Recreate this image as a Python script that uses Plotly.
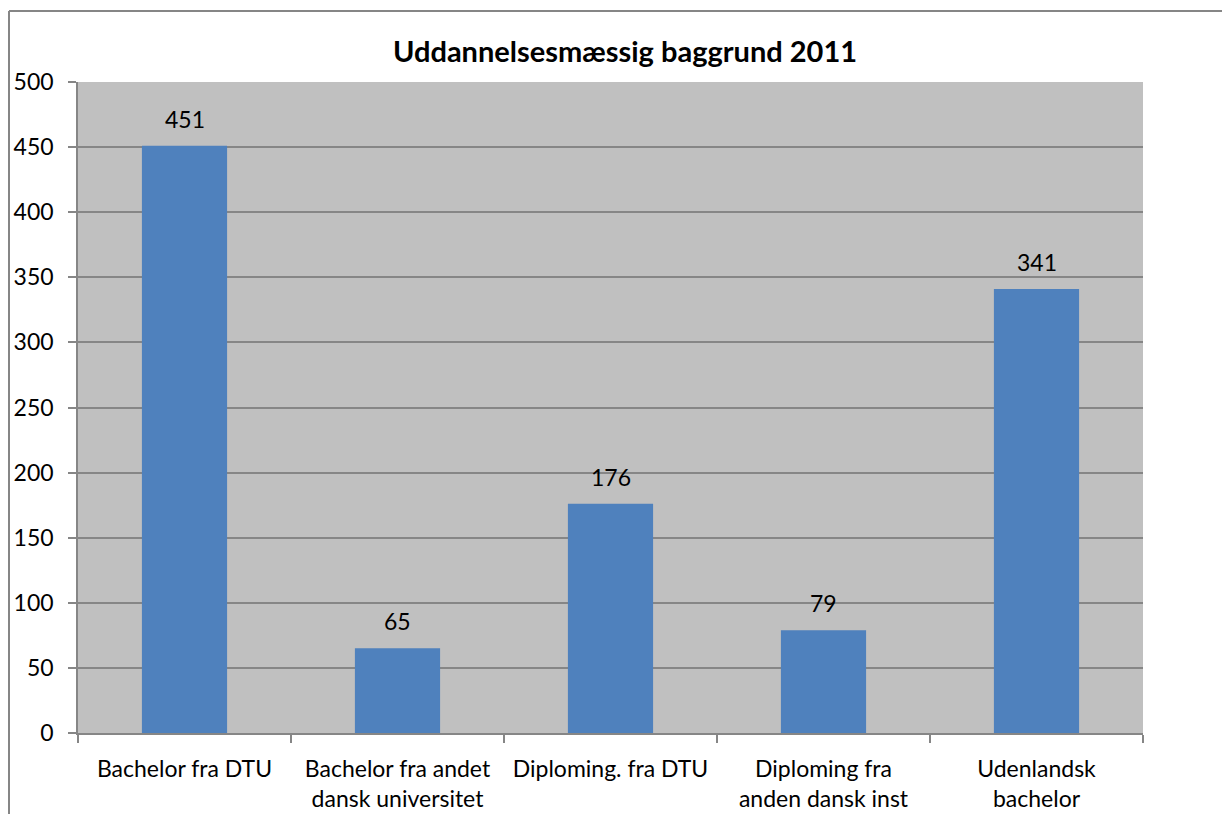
import plotly.graph_objects as go

categories = ["Bachelor fra DTU", "Bachelor fra andet<br>dansk universitet", "Diploming. fra DTU",
              "Diploming fra<br>anden dansk inst", "Udenlandsk<br>bachelor"]
values = [451, 65, 176, 79, 341]
y_ticks = [0, 50, 100, 150, 200, 250, 300, 350, 400, 450, 500]

W, H = 1230, 814
# page body has an 8px margin, so figure pixels = screen pixels - 8
L, R, T, B = 70, 95, 74, 89
pw = W - L - R
ph = H - T - B

fig = go.Figure(go.Bar(x=categories, y=values, marker_color="#4F81BD",
                       marker_line_width=0, hoverinfo="x+y"))

for c, v in zip(categories, values):
    fig.add_annotation(x=c, y=v, text=str(v), showarrow=False, yanchor="middle",
                       yshift=27, font=dict(size=23, color="black"))

grid = "#868686"
fig.update_layout(
    width=W, height=H, margin=dict(l=L, r=R, t=T, b=B, autoexpand=False),
    paper_bgcolor="white", plot_bgcolor="#C0C0C0",
    font=dict(family="Lato, 'Open Sans', sans-serif", size=23, color="black"),
    bargap=0.6, showlegend=False,
    title=dict(text="<b>Uddannelsesmæssig baggrund 2011</b>", x=(625 - 8) / W, xanchor="center",
               y=1 - 44 / H, yanchor="middle", font=dict(size=29)),
    xaxis=dict(showline=True, linecolor=grid, linewidth=1.5, ticks="outside", tickson="boundaries",
               ticklen=8, tickcolor=grid, tickwidth=1.5, showgrid=False, tickfont=dict(size=23),
               ticklabelstandoff=15, automargin=False),
    yaxis=dict(range=[0, 500], tickvals=y_ticks, showline=True, linecolor=grid, linewidth=1.5,
               ticks="outside", ticklen=8, tickcolor=grid, tickwidth=1.5, gridcolor=grid,
               gridwidth=1.5, tickfont=dict(size=23), zeroline=False, ticklabelstandoff=10,
               automargin=False),
)

# outer chart frame (extends beyond the right/bottom of the view)
x0 = (1 - L) / pw
y1 = 1 + (T - 3) / ph
fig.add_shape(type="line", xref="paper", yref="paper", x0=x0, x1=x0, y0=-1, y1=y1,
              line=dict(color=grid, width=2))
fig.add_shape(type="line", xref="paper", yref="paper", x0=x0, x1=2, y0=y1, y1=y1,
              line=dict(color=grid, width=2))

fig.write_html("out.html")
